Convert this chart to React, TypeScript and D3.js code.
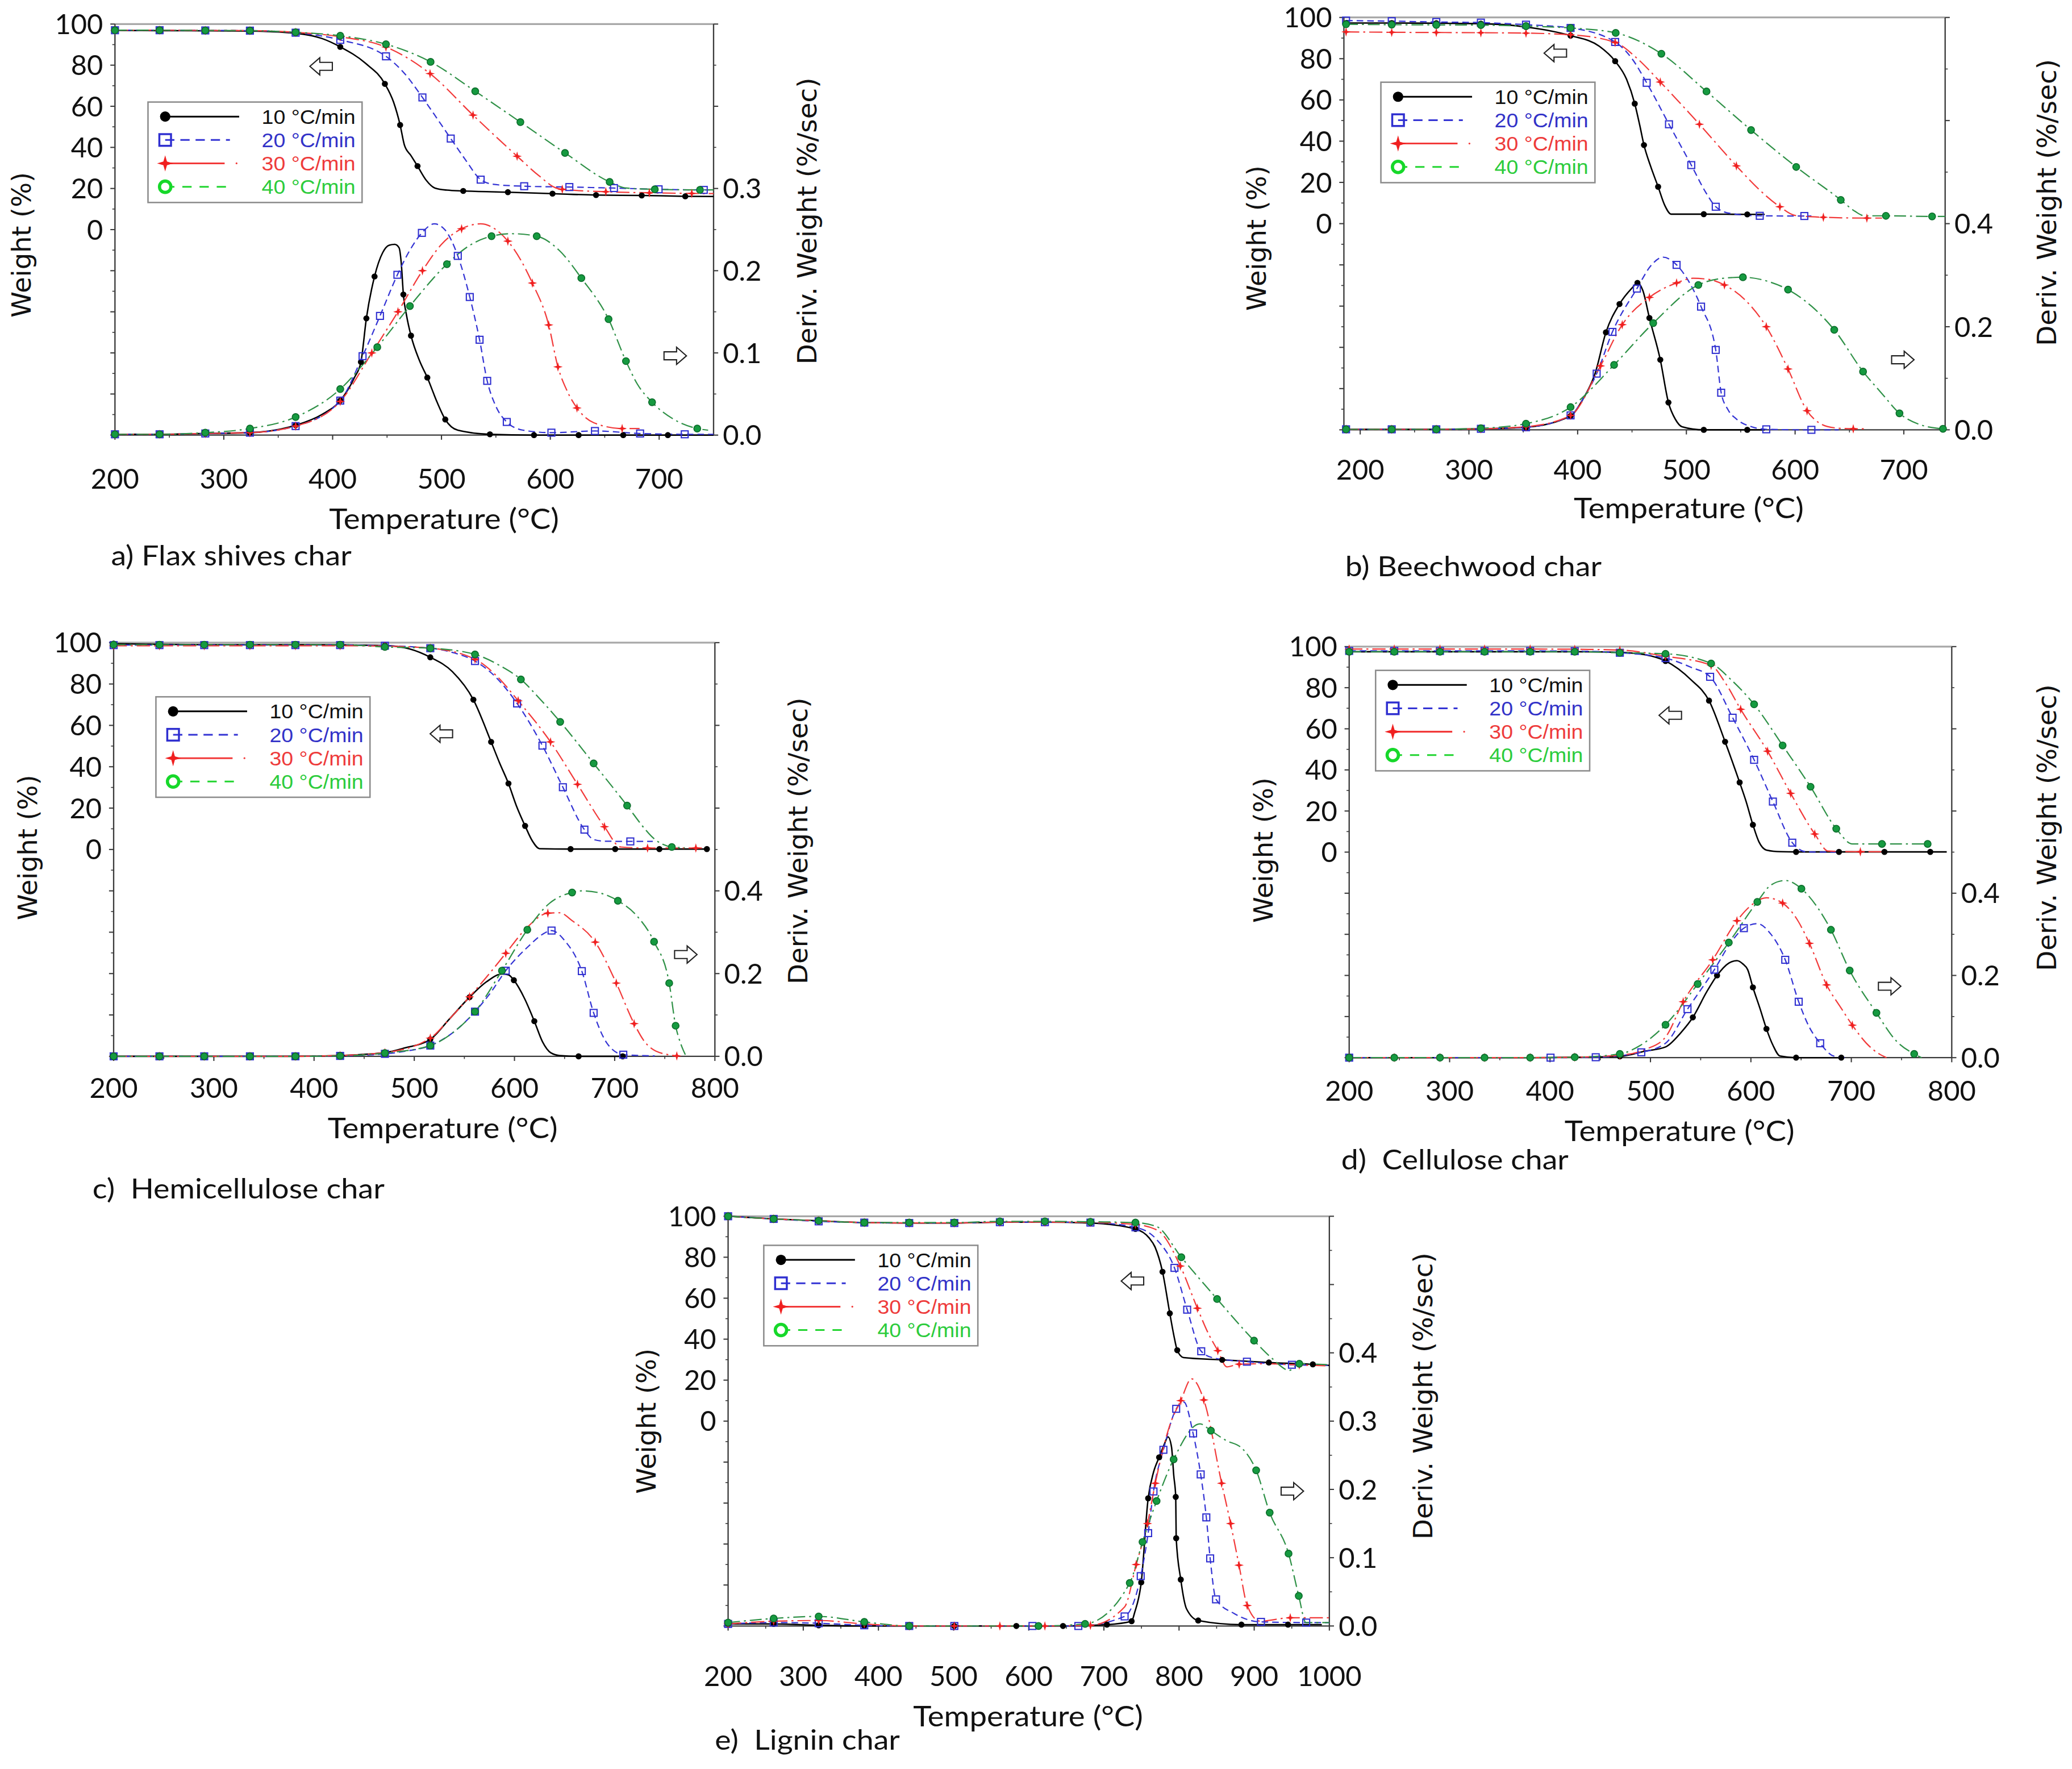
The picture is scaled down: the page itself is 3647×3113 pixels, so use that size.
import * as d3 from 'd3';

type P = [number, number, number?];

// rate labels shared by every legend
const RATES = ['10 °C/min', '20 °C/min', '30 °C/min', '40 °C/min'];

// ---- a) Flax shives char: weight (%) and deriv. weight (%/sec) vs temperature ----
const aTg10: P[] = [[200,96.9,1],[241,96.8,1],[283,96.7,1],[324,96.6,1],[366,95.5,1],[390,93],[407,88.9,1],[430,81],[448,70.9,1],[456,62],[462,50.9,1],[466,41],[472,36],[478,30.9,1],[486,24],[494,20.2],[505,19.2],[520,18.8,1],[561,18.2,1],[602,17.5,1],[642,16.8,1],[684,16.6,1],[724,16.2,1],[750,16.1]];
const aTg20: P[] = [[200,97,1],[241,97,1],[283,96.9,1],[324,96.8,1],[366,95.8,1],[407,92.3,1],[449,84.3,1],[466,76],[482.5,64.3,1],[496,54],[508.5,44.3,1],[522,34],[536,24.3,1],[548,22],[576,21.1,1],[617.5,20.7,1],[658.5,20.2,1],[699.5,19.6,1],[741,19.3,1],[750,19.3]];
const aTg30: P[] = [[200,97,1],[241,97,1],[283,96.9,1],[324,96.8,1],[366,96,1],[407,93.8,1],[449,88.8,1],[489.5,75.9,1],[529,55.7,1],[569.5,35.7,1],[590,26],[605,20.3],[611,19.6,1],[651,18.4,1],[691,17.9,1],[730,17.6,1],[750,17.5]];
const aTg40: P[] = [[200,97,1],[241,97,1],[283,96.9,1],[324,96.8,1],[366,96,1],[407,94.3,1],[449,90.2,1],[490,81.6,1],[531,67.3,1],[572.5,52.3,1],[613.5,37.3,1],[654.5,23.2,1],[670,20.2],[696,19.6,1],[737.5,19.3,1],[750,19.3]];
const aDtg10: P[] = [[200,0.001,1],[241,0.001,1],[283,0.002,1],[324,0.003,1],[366,0.012,1],[390,0.025],[407,0.042,1],[420,0.07],[426,0.089,1],[431,0.142,1],[438.5,0.193,1],[446,0.222],[452,0.231],[457,0.232],[461,0.228],[463,0.21],[465,0.171,1],[468,0.145],[472,0.121,1],[480,0.09],[487,0.07,1],[496,0.04],[503.5,0.019,1],[515,0.006],[544.5,0.001,1],[585,0,1],[626,0,1],[667,0,1],[708,0,1],[750,0]];
const aDtg20: P[] = [[200,0.001,1],[241,0.001,1],[283,0.002,1],[324,0.003,1],[366,0.011,1],[407,0.042,1],[427.5,0.096,1],[443.5,0.145,1],[459.5,0.195,1],[471,0.225],[482,0.246,1],[493.5,0.257],[503,0.25],[515,0.218,1],[526,0.168,1],[535,0.116,1],[542,0.066,1],[550,0.035],[560,0.016,1],[575,0.006],[601,0.003,1],[641,0.005,1],[682.5,0.002,1],[723.5,0.001,1],[750,0.001]];
const aDtg30: P[] = [[200,0.001,1],[241,0.001,1],[283,0.002,1],[324,0.003,1],[366,0.011,1],[407,0.041,1],[436,0.1,1],[460,0.15,1],[482.5,0.2,1],[500,0.232],[518.5,0.251,1],[536,0.257],[550,0.25],[561,0.236,1],[583.5,0.185,1],[598.5,0.134,1],[607,0.083,1],[615,0.055],[624.5,0.033,1],[640,0.015],[666,0.008,1],[682,0.008]];
const aDtg40: P[] = [[200,0.001,1],[241,0.001,1],[283,0.003,1],[324,0.008,1],[366,0.022,1],[407,0.056,1],[441,0.107,1],[471,0.157,1],[505,0.208,1],[525,0.23],[546,0.242,1],[565,0.245],[587.5,0.242,1],[608,0.225],[628.5,0.191,1],[653.5,0.141,1],[669.5,0.09,1],[680,0.062],[693.5,0.04,1],[715,0.018],[735,0.008,1],[745,0.006]];

// ---- b) Beechwood char ----
const bTg10: P[] = [[187,97.3,1],[229,97.3,1],[270,97.2,1],[311,97,1],[352.5,95.4,1],[393.5,91.2,1],[420,86],[434.5,78.8,1],[445,70],[452.5,58.2,1],[457,48],[461,38.1,1],[467,28],[474,17.9,1],[480,9],[486,4.6],[516,4.6,1],[556,4.5,1],[572,4.5]];
const bTg20: P[] = [[187,98.5,1],[229,98.2,1],[270,97.8,1],[311,97.5,1],[352.5,96.5,1],[393.5,94.9,1],[434.5,88.1,1],[450,80],[463.5,68.3,1],[484,48.2,1],[504.5,28.4,1],[518,15],[527,8.2,1],[540,5],[567.5,3.8,1],[608.5,3.7,1],[615,3.7]];
const bTg30: P[] = [[187,93,1],[229,92.8,1],[270,92.7,1],[311,92.6,1],[352.5,92.4,1],[393.5,91.6,1],[434.5,87.9,1],[455,80],[476,68.7,1],[512,48.2,1],[546,28,1],[568,16],[586,8.2,1],[600,4],[626,3.1,1],[666,2.7,1],[680,2.7]];
const bTg40: P[] = [[187,96.7,1],[229,96.5,1],[270,96.4,1],[311,96.3,1],[352.5,95.8,1],[393.5,94.9,1],[435,92.5,1],[477,82.4,1],[518.5,64.1,1],[559.5,45.4,1],[601,27.5,1],[642,11.5,1],[655,6],[664,3.8],[683.5,3.8,1],[726,3.5,1],[738,3.5]];
const bDtg10: P[] = [[187,0.001,1],[229,0.001,1],[270,0.001,1],[311,0.002,1],[352.5,0.005,1],[393.5,0.027,1],[405,0.06],[416,0.109],[426,0.189,1],[438.5,0.244,1],[450,0.275],[455,0.285,1],[460,0.27],[466,0.217,1],[476,0.136,1],[483.5,0.053,1],[490,0.02],[496,0.006],[516,0,1],[556,0,1],[572,0]];
const bDtg20: P[] = [[187,0.001,1],[229,0.001,1],[270,0.001,1],[311,0.002,1],[352.5,0.005,1],[393.5,0.028,1],[405,0.06],[417.5,0.109,1],[432,0.19,1],[454.5,0.274,1],[468,0.32],[478.5,0.335],[491,0.32,1],[503,0.285],[513.5,0.239,1],[527,0.155,1],[532,0.072,1],[538,0.04],[546,0.021],[560,0.006],[573.5,0.001,1],[615,0,1],[640,0]];
const bDtg30: P[] = [[187,0.001,1],[229,0.001,1],[270,0.001,1],[311,0.002,1],[352.5,0.006,1],[393.5,0.028,1],[421,0.124,1],[441,0.204,1],[466,0.257,1],[491,0.285,1],[506,0.294],[520,0.292],[535,0.281,1],[555,0.25],[573.5,0.2,1],[593.5,0.118,1],[611,0.037,1],[625,0.01],[636,0.004],[653.5,0.002,1],[665,0.002]];
const bDtg40: P[] = [[187,0.001,1],[229,0.001,1],[270,0.001,1],[311,0.003,1],[352.5,0.012,1],[393.5,0.044,1],[433.5,0.126,1],[469.5,0.207,1],[511,0.281,1],[530,0.293],[552,0.296,1],[575,0.288],[593.5,0.272,1],[615,0.24],[636,0.194,1],[662.5,0.113,1],[680,0.07],[696,0.032,1],[715,0.01],[736,0.002,1]];

// ---- c) Hemicellulose char ----
const cTg10: P[] = [[200,99.5,1],[245.7,99.2,1],[290.4,99,1],[336,99,1],[381.4,99,1],[426,98.9,1],[470.7,98.6,1],[495,97],[516,92.9,1],[538,86],[559,72.4,1],[576.7,52,1],[585,42],[594,31.9,1],[602,21],[610.6,11.4,1],[618,4],[625,0.4],[656,0.2,1],[700.5,0.2,1],[744.6,0.2,1],[792,0.2,1]];
const cTg20: P[] = [[200,98.8,1],[245.7,98.8,1],[290.4,98.8,1],[336,98.8,1],[381.4,98.8,1],[426,98.8,1],[470.7,98.5,1],[516,97.3,1],[540,95],[560.6,91.1,1],[582,83],[602.6,70.6,1],[627.9,50.2,1],[648.3,30.1,1],[669.8,9.6,1],[679,4.8],[690,4],[715.6,3.9,1],[738,3.9]];
const cTg30: P[] = [[200,98.5,1],[245.7,98.5,1],[290.4,98.5,1],[336,98.5,1],[381.4,98.5,1],[426,98.5,1],[470.7,98.3,1],[516,97.3,1],[560.6,92,1],[582,84],[603.7,71.9,1],[636,52,1],[662.9,31.5,1],[689.8,11,1],[706,1.2],[732.8,0.7,1],[781,0.7,1],[790,0.7]];
const cTg40: P[] = [[200,99,1],[245.7,99,1],[290.4,99,1],[336,99,1],[381.4,99,1],[426,99,1],[470.7,97.9,1],[516,97.3,1],[560.6,94.3,1],[585,89],[606.4,82.2,1],[625,73],[645.6,61.7,1],[679,41.6,1],[712.4,21.2,1],[730,10],[738.2,5.7],[757,1.2,1],[770,0.8]];
const cDtg10: P[] = [[200,0,1],[245.7,0,1],[290.4,0,1],[336,0,1],[381.4,0,1],[426,0.002,1],[470.7,0.009,1],[490,0.02],[516,0.041,1],[535,0.09],[555.2,0.143,1],[572,0.18],[587.5,0.199],[594,0.197],[599.4,0.184,1],[610,0.14],[619.8,0.085,1],[628,0.035],[636,0.009],[645,0.002],[664,0,1],[708,0,1]];
const cDtg20: P[] = [[200,0,1],[245.7,0,1],[290.4,0,1],[336,0,1],[381.4,0,1],[426,0.001,1],[470.7,0.006,1],[490,0.012],[516,0.026,1],[540,0.06],[560.6,0.108,1],[575,0.15],[591.3,0.207,1],[614.4,0.267],[628,0.295],[637,0.304,1],[650,0.28],[667.2,0.206,1],[679,0.105,1],[692.5,0.031],[708.6,0.004,1],[740,0.001]];
const cDtg30: P[] = [[200,0,1],[245.7,0,1],[290.4,0,1],[336,0,1],[381.4,0,1],[426,0.002,1],[470.7,0.009,1],[516,0.044,1],[535,0.09],[555.2,0.144,1],[575,0.2],[591.3,0.249,1],[612,0.31],[633.3,0.346,1],[645,0.347],[657.5,0.328],[680.6,0.276,1],[701.6,0.177,1],[719.4,0.079,1],[730,0.035],[740.9,0.013],[762,0.001,1]];
const cDtg40: P[] = [[200,0,1],[245.7,0,1],[290.4,0,1],[336,0,1],[381.4,0,1],[426,0.001,1],[470.7,0.008,1],[516,0.026,1],[540,0.06],[560.6,0.108,1],[587.5,0.207,1],[612.8,0.306,1],[635,0.37],[657.5,0.396,1],[668.2,0.4],[685,0.395],[703.2,0.376,1],[722,0.34],[739.3,0.277,1],[754.4,0.177,1],[760.8,0.074,1],[766,0.03],[770.5,0.004]];

// ---- d) Cellulose char ----
const dTg10: P[] = [[200,97.5,1],[244.9,97.5,1],[290.4,97.5,1],[334.8,97.5,1],[380.2,97.5,1],[424.6,97.5,1],[469.5,97.2,1],[495,96],[515,93,1],[540,84],[558.3,73.7,1],[574.3,53.7,1],[588.8,33.9,1],[595,25],[602,13.3,1],[608,5],[615.5,1],[630,0.2],[645,0.1,1],[687.7,0.1,1],[733,0.1,1],[778.6,0.1,1],[795,0.1]];
const dTg20: P[] = [[200,97.9,1],[244.9,97.9,1],[290.4,97.9,1],[334.8,97.9,1],[380.2,97.9,1],[424.6,97.8,1],[469.5,97,1],[515,94.4,1],[540,90],[559.4,85.3,1],[581.8,65.4,1],[603.2,44.9,1],[621.9,24.6,1],[641.2,4.6,1],[655.6,0.1],[690,0]];
const dTg30: P[] = [[200,98.8,1],[244.9,98.8,1],[290.4,98.8,1],[334.8,98.8,1],[380.2,98.8,1],[424.6,98.7,1],[469.5,98.3,1],[515,95.3,1],[560.4,90.9,1],[575,82],[589.8,69.5,1],[616.6,49.1,1],[639.6,28.6,1],[663.6,8.8,1],[677,0.5],[709,0.2,1],[730,0.2]];
const dTg40: P[] = [[200,97.5,1],[244.9,97.5,1],[290.4,97.5,1],[334.8,97.5,1],[380.2,97.5,1],[424.6,97.5,1],[469.5,97,1],[515,96.5,1],[560.4,91.8,1],[580,84],[603.2,71.9,1],[631.6,51.9,1],[659.4,31.8,1],[685,11.4,1],[701,4],[730.5,4,1],[776,4,1],[780,4]];
const dDtg10: P[] = [[200,0,1],[244.9,0,1],[290.4,0,1],[334.8,0,1],[380.2,0,1],[424.6,0.001,1],[469.5,0.003,1],[495.2,0.016],[515,0.026],[530,0.06],[542.2,0.098,1],[556,0.16],[566.3,0.2,1],[578,0.23],[586.1,0.236],[592,0.228],[596.8,0.214],[602,0.171,1],[609,0.12],[615.5,0.07,1],[622,0.03],[628.9,0.004],[645,0,1],[690,0,1]];
const dDtg20: P[] = [[200,0,1],[400.5,0,1],[445.5,0.001,1],[490.9,0.013,1],[515,0.035],[536.9,0.118,1],[563.6,0.214,1],[580,0.28],[593,0.315,1],[606.4,0.326],[620,0.3],[634.2,0.238,1],[647.6,0.136,1],[658,0.075],[669,0.035,1],[682.4,0.004],[695,0]];
const dDtg30: P[] = [[200,0,1],[244.9,0,1],[290.4,0,1],[334.8,0,1],[380.2,0,1],[424.6,0.001,1],[469.5,0.006,1],[495,0.02],[515,0.05],[532.6,0.136,1],[562,0.238,1],[586.1,0.333,1],[600,0.37],[615.5,0.389],[631.6,0.376,1],[645,0.34],[658.3,0.278,1],[675.4,0.177,1],[690,0.12],[701,0.079,1],[715,0.035],[727.8,0.009],[735,0]];
const dDtg40: P[] = [[200,0,1],[244.9,0,1],[290.4,0,1],[334.8,0,1],[380.2,0,1],[424.6,0.001,1],[469.5,0.009,1],[490,0.03],[515,0.08,1],[547,0.179,1],[578,0.28,1],[606.4,0.379,1],[620,0.42],[634.2,0.431],[650.3,0.411,1],[665,0.37],[679.7,0.311,1],[698.4,0.212,1],[725,0.109,1],[745,0.04],[762.6,0.009,1],[770,0]];

// ---- e) Lignin char ----
const eTg10: P[] = [[200,100,1],[260.6,98.7,1],[320.5,97.8,1],[381.2,96.9,1],[441,96.7,1],[501,96.7,1],[561.6,97.1,1],[621.5,97.1,1],[682.1,96.7,1],[742,93.8,1],[760,89.5],[768,85],[778,72.9,1],[787.7,52.6,1],[793,42],[797.6,34.6,1],[806,31],[857.4,29.9,1],[919.5,28.6,1],[978,27.7,1],[1000,27.2]];
const eTg20: P[] = [[200,100,1],[260.6,98.7,1],[320.5,97.5,1],[381.2,96.9,1],[441,96.7,1],[501,96.7,1],[561.6,97.1,1],[621.5,97.1,1],[682.1,96.9,1],[742,94.6,1],[769.8,88.8],[793.9,74.8,1],[810.8,54.4,1],[829.5,34.1,1],[846.4,30.8],[890.3,29,1],[950.2,27.5,1],[1000,27.2]];
const eTg30: P[] = [[200,100,1],[260.6,98.7,1],[320.5,97.8,1],[381.2,96.9,1],[441,96.7,1],[501,96.7,1],[561.6,97.1,1],[621.5,97.1,1],[682.1,97,1],[742,96,1],[772,93],[801.7,75.7,1],[824.4,55.1,1],[840,42],[851.6,34.4,1],[863.5,26.5],[880,27.8,1],[920,28],[960,27.4,1],[1000,27]];
const eTg40: P[] = [[200,100,1],[260.6,98.7,1],[320.5,97.8,1],[381.2,96.9,1],[441,96.9,1],[501,96.9,1],[561.6,97.5,1],[621.5,97.5,1],[682.1,97.3,1],[742,96.9,1],[770,95],[803,80,1],[850.6,59.6,1],[899.8,39.3,1],[923.2,30.8],[946.7,24.8],[960,28,1],[1000,27.5]];
const eDtg10: P[] = [[200,0.003,1],[260.6,0.003,1],[320.5,0.001,1],[381.2,0,1],[441,0,1],[501,0,1],[583.5,0,1],[645.6,0,1],[704,0.002,1],[736.9,0.007,1],[741,0.02],[749.7,0.064,1],[758.9,0.187,1],[766,0.225],[773.5,0.247,1],[780,0.265],[785.4,0.277],[790,0.262],[793,0.22],[795.6,0.189,1],[796.2,0.1285,1],[802.3,0.068,1],[810,0.025],[825.5,0.008,1],[883,0.002,1],[945,0.002,1],[990,0.002]];
const eDtg20: P[] = [[200,0.003,1],[260.6,0.005,1],[320.5,0.004,1],[381.2,0.001,1],[441,0,1],[501,0,1],[605,0,1],[666,0,1],[727.6,0.014,1],[749,0.073,1],[758.9,0.136,1],[766,0.197,1],[779.2,0.258,1],[796.2,0.318,1],[806.3,0.328],[818.7,0.282,1],[828.8,0.222,1],[836.3,0.159,1],[841.4,0.099,1],[849.2,0.039,1],[873.7,0.018],[909,0.006,1],[969.2,0.005,1],[1000,0.005]];
const eDtg30: P[] = [[200,0.003,1],[260.6,0.007,1],[320.5,0.008,1],[381.2,0.003,1],[441,0,1],[501,0,1],[561.6,0,1],[621.5,0,1],[682.1,0.001,1],[727.6,0.028],[743,0.09,1],[758,0.15,1],[768.4,0.209,1],[788,0.295],[802.3,0.33,1],[816.6,0.362],[833,0.331,1],[856.7,0.209,1],[868.6,0.15,1],[879.8,0.089,1],[890.7,0.03,1],[907.7,0.007],[948,0.012,1],[1000,0.012]];
const eDtg40: P[] = [[200,0.005,1],[260.6,0.011,1],[320.5,0.014,1],[381.2,0.006,1],[441,0,1],[613,0,1],[675,0.003,1],[734.4,0.063,1],[751.4,0.123,1],[770.1,0.183,1],[792.8,0.244,1],[827.8,0.296],[842.4,0.286,1],[862,0.272],[883.9,0.26],[902.6,0.228,1],[920.6,0.166,1],[945.7,0.106,1],[959.3,0.044,1],[968.8,0.005],[1000,0.005]];

// temperature tick values
const xTicks600 = [200, 300, 400, 500, 600, 700];
const xTicks800 = [200, 300, 400, 500, 600, 700, 800];
const xTicks1000 = [200, 300, 400, 500, 600, 700, 800, 900, 1000];
const weightLabels = [0, 20, 40, 60, 80, 100];

// line / marker styles per heating rate
const LINE_COLORS = ['#000000', '#3434d4', '#f23a3a', '#2f9147'];
const TEXT_COLORS = ['#111111', '#3232c8', '#ee3b3b', '#2ccc3c'];
const DASHES = ['none', '5 3', '10 3 1.5 3', '9 3 1.5 3'];

const TICK_FONT = 'Lato, "Open Sans", sans-serif';
const TITLE_FONT = '"DejaVu Sans", Verdana, sans-serif';
const LEGEND_FONT = '"Liberation Sans", Arial, sans-serif';

interface PanelCfg {
  box: [number, number, number, number];
  xDomain: [number, number];
  xTicks: number[];
  xLabelGap: number;
  dMax: number;
  dStep: number;
  dLabelMax: number;
  tg: P[][];
  dtg: P[][];
  legend: [number, number];
  arrowL: [number, number];
  arrowR: [number, number];
  caption: string;
  captionPos: [number, number, number];
  xTitle: [number, number];
  yLeft: [number, number];
  yRight: [number, number];
}

const PANELS: PanelCfg[] = [
  {
    box: [87, 18, 540, 329], xDomain: [200, 750], xTicks: xTicks600, xLabelGap: 33,
    dMax: 0.5, dStep: 0.1, dLabelMax: 0.3,
    tg: [aTg10, aTg20, aTg30, aTg40], dtg: [aDtg10, aDtg20, aDtg30, aDtg40],
    legend: [112, 77], arrowL: [243, 50], arrowR: [511, 269],
    caption: 'a) Flax shives char', captionPos: [84, 420, 182],
    xTitle: [336, 392], yLeft: [16, 185], yRight: [611, 167],
  },
  {
    box: [1017, 13, 1472, 325], xDomain: [185, 738], xTicks: xTicks600, xLabelGap: 30,
    dMax: 0.8, dStep: 0.2, dLabelMax: 0.4,
    tg: [bTg10, bTg20, bTg30, bTg40], dtg: [bDtg10, bDtg20, bDtg30, bDtg40],
    legend: [1045, 62], arrowL: [1177, 40], arrowR: [1440, 272],
    caption: 'b) Beechwood char', captionPos: [1018, 428, 194],
    xTitle: [1278, 384], yLeft: [951, 180], yRight: [1549, 153],
  },
  {
    box: [86, 486, 541, 799], xDomain: [200, 800], xTicks: xTicks800, xLabelGap: 24,
    dMax: 1.0, dStep: 0.2, dLabelMax: 0.4,
    tg: [cTg10, cTg20, cTg30, cTg40], dtg: [cDtg10, cDtg20, cDtg30, cDtg40],
    legend: [118, 527], arrowL: [334, 555], arrowR: [519, 722],
    caption: 'c)  Hemicellulose char', captionPos: [70, 899, 221],
    xTitle: [335, 853], yLeft: [21, 641], yRight: [604, 636],
  },
  {
    box: [1021, 489, 1477, 800], xDomain: [200, 800], xTicks: xTicks800, xLabelGap: 25,
    dMax: 1.0, dStep: 0.2, dLabelMax: 0.4,
    tg: [dTg10, dTg20, dTg30, dTg40], dtg: [dDtg10, dDtg20, dDtg30, dDtg40],
    legend: [1041, 507], arrowL: [1264, 541], arrowR: [1430, 746],
    caption: 'd)  Cellulose char', captionPos: [1015, 877, 172],
    xTitle: [1271, 855], yLeft: [956, 643], yRight: [1549, 626],
  },
  {
    box: [551, 920, 1006, 1230], xDomain: [200, 1000], xTicks: xTicks1000, xLabelGap: 38,
    dMax: 0.6, dStep: 0.1, dLabelMax: 0.4,
    tg: [eTg10, eTg20, eTg30, eTg40], dtg: [eDtg10, eDtg20, eDtg30, eDtg40],
    legend: [578, 942], arrowL: [857, 969], arrowR: [978, 1128],
    caption: 'e)  Lignin char', captionPos: [541, 1316, 140],
    xTitle: [778, 1298], yLeft: [489, 1075], yRight: [1077, 1056],
  },
];

function Marker({ k, x, y, legend = false }: { k: number; x: number; y: number; legend?: boolean }) {
  const s = legend ? 1.7 : 1;
  if (k === 0) return <circle cx={x} cy={y} r={2.3 * s} fill="#000" />;
  if (k === 1) {
    return (
      <rect x={x - 2.6 * s} y={y - 2.6 * s} width={5.2 * s} height={5.2 * s}
        fill="none" stroke="#2f2fd0" strokeWidth={legend ? 1.5 : 0.9} />
    );
  }
  if (k === 2) {
    const r = 3.6 * s, q = 0.8 * s;
    const pts = [[0, -r], [q, -q], [r, 0], [q, q], [0, r], [-q, q], [-r, 0], [-q, -q]]
      .map(([dx, dy]) => `${x + dx},${y + dy}`).join(' ');
    return <polygon points={pts} fill="#f02020" />;
  }
  if (legend) return <circle cx={x} cy={y} r={4.3} fill="#fff" stroke="#16d82a" strokeWidth={2.4} />;
  return <circle cx={x} cy={y} r={2.6} fill="#169a40" stroke="#0c6d2b" strokeWidth={0.7} />;
}

function Arrow({ cx, cy, dir }: { cx: number; cy: number; dir: 1 | -1 }) {
  const pts = [[-8.5, -3], [1, -3], [1, -6.5], [8.5, 0], [1, 6.5], [1, 3], [-8.5, 3]]
    .map(([dx, dy]) => `${cx + dir * dx},${cy + dy}`).join(' ');
  return <polygon points={pts} fill="#fff" stroke="#222" strokeWidth={0.9} />;
}

function Panel({ cfg }: { cfg: PanelCfg }) {
  const [l, t, r, b] = cfg.box;
  const x = d3.scaleLinear().domain(cfg.xDomain).range([l, r]);
  const yW = d3.scaleLinear().domain([-100, 100]).range([b, t]);
  const yD = d3.scaleLinear().domain([0, cfg.dMax]).range([b, t]);
  const lineW = d3.line<P>().x(d => x(d[0])).y(d => yW(d[1])).curve(d3.curveMonotoneX);
  const lineD = d3.line<P>().x(d => x(d[0])).y(d => yD(d[1])).curve(d3.curveMonotoneX);
  const fmtD = d3.format('.1f');

  const wMajor = d3.range(-100, 101, 20);
  const wMinor = d3.range(-90, 100, 20);
  const dMajor = d3.range(0, cfg.dMax + 1e-9, cfg.dStep);
  const dMinor = d3.range(cfg.dStep / 2, cfg.dMax, cfg.dStep);
  const xMinor = cfg.xTicks.slice(0, -1).map(v => v + 50).filter(v => v < cfg.xDomain[1]);
  const axisColor = '#3a3a3a';

  const [lx, ly] = cfg.legend;
  const rowH = 17.7;

  return (
    <g>
      {/* frame */}
      <line x1={l} x2={r} y1={t} y2={t} stroke="#a8a8a8" strokeWidth={1.4} />
      <line x1={l} x2={l} y1={t} y2={b} stroke={axisColor} strokeWidth={1} />
      <line x1={r} x2={r} y1={t} y2={b} stroke={axisColor} strokeWidth={1} />
      <line x1={l} x2={r} y1={b} y2={b} stroke={axisColor} strokeWidth={1} />

      {/* left axis: weight */}
      {wMajor.map(v => (
        <line key={`wM${v}`} x1={l - 3.5} x2={l} y1={yW(v)} y2={yW(v)} stroke={axisColor} strokeWidth={0.9} />
      ))}
      {wMinor.map(v => (
        <line key={`wm${v}`} x1={l - 2} x2={l} y1={yW(v)} y2={yW(v)} stroke={axisColor} strokeWidth={0.7} />
      ))}
      {weightLabels.map(v => (
        <text key={`wl${v}`} x={l - 9} y={yW(v)} dy="0.36em" textAnchor="end"
          fontFamily={TICK_FONT} fontSize={21} fill="#111">{v}</text>
      ))}

      {/* right axis: deriv. weight */}
      {dMajor.map(v => (
        <line key={`dM${v}`} x1={r} x2={r + 3.5} y1={yD(v)} y2={yD(v)} stroke={axisColor} strokeWidth={0.9} />
      ))}
      {dMinor.map(v => (
        <line key={`dm${v}`} x1={r} x2={r + 2} y1={yD(v)} y2={yD(v)} stroke={axisColor} strokeWidth={0.7} />
      ))}
      {dMajor.filter(v => v <= cfg.dLabelMax + 1e-9).map(v => (
        <text key={`dl${v}`} x={r + 7} y={yD(v)} dy="0.36em" textAnchor="start"
          fontFamily={TICK_FONT} fontSize={21} fill="#111">{fmtD(v)}</text>
      ))}

      {/* bottom axis: temperature */}
      {cfg.xTicks.map(v => (
        <line key={`xM${v}`} x1={x(v)} x2={x(v)} y1={b} y2={b + 3.5} stroke={axisColor} strokeWidth={0.9} />
      ))}
      {xMinor.map(v => (
        <line key={`xm${v}`} x1={x(v)} x2={x(v)} y1={b} y2={b + 2} stroke={axisColor} strokeWidth={0.7} />
      ))}
      {cfg.xTicks.map(v => (
        <text key={`xl${v}`} x={x(v)} y={b + cfg.xLabelGap} dy="0.36em" textAnchor="middle"
          fontFamily={TICK_FONT} fontSize={21} fill="#111">{v}</text>
      ))}

      {/* curves */}
      {cfg.tg.map((s, k) => (
        <path key={`tg${k}`} d={lineW(s) ?? ''} fill="none" stroke={LINE_COLORS[k]}
          strokeWidth={k === 0 ? 1.1 : 0.95} strokeDasharray={DASHES[k]} />
      ))}
      {cfg.dtg.map((s, k) => (
        <path key={`dtg${k}`} d={lineD(s) ?? ''} fill="none" stroke={LINE_COLORS[k]}
          strokeWidth={k === 0 ? 1.1 : 0.95} strokeDasharray={DASHES[k]} />
      ))}
      {cfg.tg.map((s, k) => s.filter(d => d[2]).map((d, i) => (
        <Marker key={`tgm${k}-${i}`} k={k} x={x(d[0])} y={yW(d[1])} />
      )))}
      {cfg.dtg.map((s, k) => s.filter(d => d[2]).map((d, i) => (
        <Marker key={`dtgm${k}-${i}`} k={k} x={x(d[0])} y={yD(d[1])} />
      )))}

      {/* arrows */}
      <Arrow cx={cfg.arrowL[0]} cy={cfg.arrowL[1]} dir={-1} />
      <Arrow cx={cfg.arrowR[0]} cy={cfg.arrowR[1]} dir={1} />

      {/* legend */}
      <rect x={lx} y={ly} width={162} height={76} fill="#fff" stroke="#8c8c8c" strokeWidth={1.1} />
      {RATES.map((label, k) => {
        const cy = ly + 11 + k * rowH;
        const x0 = lx + 13;
        const x1 = [lx + 69, lx + 62, lx + 58, lx + 64][k];
        return (
          <g key={`lg${k}`}>
            <line x1={x0} x2={x1} y1={cy} y2={cy} stroke={k === 3 ? '#22d530' : LINE_COLORS[k]}
              strokeWidth={1.3} strokeDasharray={k === 1 ? '7 4.5' : k === 3 ? '7 6' : 'none'} />
            {k === 2 && <circle cx={lx + 67} cy={cy} r={0.7} fill={LINE_COLORS[2]} />}
            <Marker k={k} x={x0} y={cy} legend />
            <text x={lx + 157} y={cy} dy="0.36em" textAnchor="end" fontFamily={LEGEND_FONT}
              fontSize={15} textLength={71} lengthAdjust="spacingAndGlyphs" fill={TEXT_COLORS[k]}>{label}</text>
          </g>
        );
      })}

      {/* titles */}
      <text x={cfg.xTitle[0]} y={cfg.xTitle[1]} dy="0.36em" textAnchor="middle" fontFamily={TICK_FONT}
        fontSize={22} textLength={174} lengthAdjust="spacingAndGlyphs" fill="#111">Temperature (°C)</text>
      <text transform={`translate(${cfg.yLeft[0]},${cfg.yLeft[1]}) rotate(-90)`} dy="0.36em" textAnchor="middle"
        fontFamily={TITLE_FONT} fontSize={19.5} textLength={110} lengthAdjust="spacingAndGlyphs" fill="#111">Weight (%)</text>
      <text transform={`translate(${cfg.yRight[0]},${cfg.yRight[1]}) rotate(-90)`} dy="0.36em" textAnchor="middle"
        fontFamily={TITLE_FONT} fontSize={19.5} textLength={217} lengthAdjust="spacingAndGlyphs" fill="#111">Deriv. Weight (%/sec)</text>
      <text x={cfg.captionPos[0]} y={cfg.captionPos[1]} dy="0.36em" fontFamily={TICK_FONT} fontSize={21}
        textLength={cfg.captionPos[2]} lengthAdjust="spacingAndGlyphs" fill="#111" style={{ whiteSpace: 'pre' }}>{cfg.caption}</text>
    </g>
  );
}

export default function App() {
  return (
    <div>
      <style>{'body{margin:0;background:#fff}'}</style>
      <svg width={3647} height={3113} viewBox="0 0 1568 1338" style={{ display: 'block', background: '#fff' }}>
        {PANELS.map((p, i) => <Panel key={i} cfg={p} />)}
      </svg>
    </div>
  );
}
